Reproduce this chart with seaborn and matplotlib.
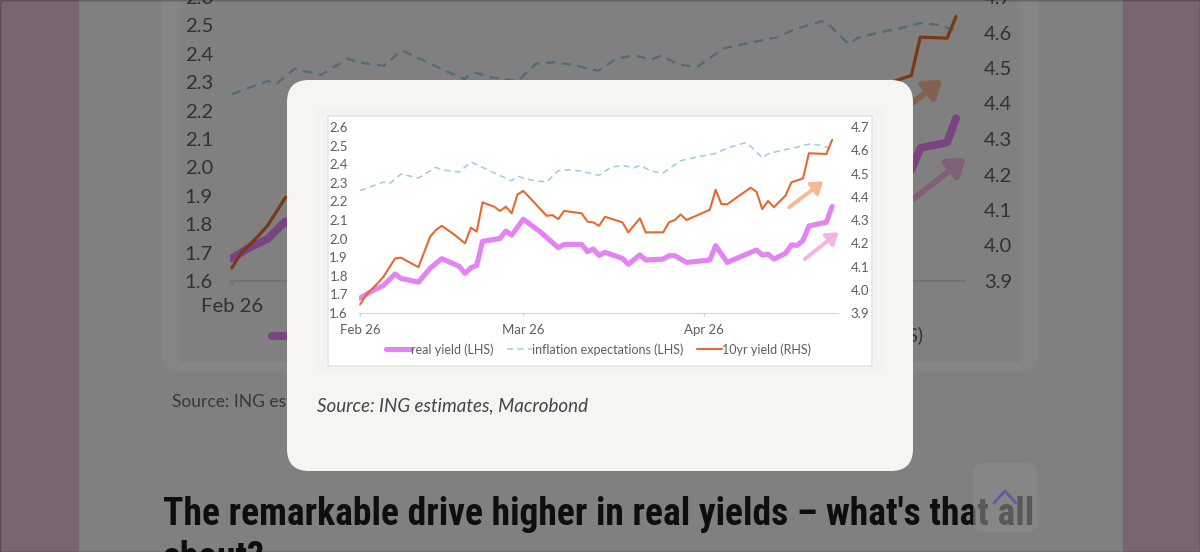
import matplotlib
matplotlib.use("Agg")
import matplotlib.pyplot as plt
from matplotlib.patches import FancyBboxPatch, Rectangle
from matplotlib.lines import Line2D
from matplotlib.transforms import IdentityTransform
import numpy as np
import pandas as pd
import seaborn as sns

# data (day offsets from 1 Feb)
start = pd.Timestamp("2026-02-01")

real_days = [0, 2, 4, 6, 7, 10, 12, 14, 17, 18, 19, 20, 21, 24, 25, 26, 28, 31, 34, 35,
             38, 39, 40, 41, 42, 45, 46, 48, 49, 52, 53, 54, 56, 60, 61, 63, 68, 69, 70,
             71, 73, 74, 75, 76, 77, 80, 81]
real_yield = [1.680, 1.718, 1.748, 1.810, 1.786, 1.766, 1.840, 1.892, 1.851, 1.813, 1.843,
              1.856, 1.985, 2.001, 2.041, 2.019, 2.104, 2.034, 1.951, 1.969, 1.969, 1.930,
              1.944, 1.910, 1.926, 1.894, 1.862, 1.912, 1.885, 1.890, 1.908, 1.908, 1.872,
              1.885, 1.962, 1.872, 1.939, 1.912, 1.916, 1.890, 1.921, 1.966, 1.964, 1.990,
              2.068, 2.088, 2.173]

infl_days = [0, 4, 5, 7, 10, 13, 14, 17, 19, 21, 23, 26, 27, 29, 32, 34, 36, 38, 41, 43,
             45, 47, 48, 50, 52, 55, 57, 61, 63, 66, 67, 69, 70, 72, 75, 77, 79, 81]
infl_exp = [2.258, 2.304, 2.294, 2.347, 2.326, 2.383, 2.370, 2.358, 2.412, 2.383, 2.353,
            2.311, 2.335, 2.317, 2.304, 2.365, 2.370, 2.362, 2.340, 2.383, 2.394, 2.380,
            2.394, 2.362, 2.353, 2.419, 2.433, 2.458, 2.487, 2.515, 2.496, 2.434, 2.456,
            2.472, 2.492, 2.508, 2.502, 2.482]

ten_days = [0, 1, 3, 4, 6, 7, 10, 12, 13, 14, 16, 18, 19, 20, 21, 23, 24, 25, 26, 27, 28,
            30, 32, 33, 34, 35, 38, 39, 40, 41, 42, 45, 46, 48, 49, 52, 53, 54, 55, 56, 60,
            61, 62, 63, 67, 68, 69, 70, 71, 73, 74, 76, 77, 80, 81]
ten_yield = [3.937, 3.977, 4.028, 4.056, 4.135, 4.138, 4.097, 4.228, 4.257, 4.275, 4.240,
             4.200, 4.267, 4.250, 4.376, 4.357, 4.339, 4.357, 4.329, 4.410, 4.425, 4.372,
             4.318, 4.321, 4.304, 4.339, 4.329, 4.293, 4.290, 4.275, 4.314, 4.290, 4.247,
             4.307, 4.247, 4.247, 4.290, 4.300, 4.324, 4.300, 4.344, 4.430, 4.368, 4.368,
             4.439, 4.422, 4.347, 4.382, 4.355, 4.405, 4.462, 4.479, 4.587, 4.584, 4.645]

month_ticks = ["2026-02-01", "2026-03-01", "2026-04-01"]
month_labels = ["Feb 26", "Mar 26", "Apr 26"]
left_ticks = [1.6, 1.7, 1.8, 1.9, 2.0, 2.1, 2.2, 2.3, 2.4, 2.5, 2.6]
right_ticks = [3.9, 4.0, 4.1, 4.2, 4.3, 4.4, 4.5, 4.6, 4.7]
series_names = ["real yield (LHS)", "inflation expectations (LHS)", "10yr yield (RHS)"]

# trend arrows (day, LHS value) start -> end
arrow_orange = ((73.6, 2.168), (79.5, 2.308))
arrow_pink = ((76.3, 1.890), (82.1, 2.034))

PURPLE = "#e384f2"
ORANGE = "#e8692b"
BLUE = "#9ccbe6"
GREY = "#5e5e5e"

sns.set_style("white")
plt.rcParams["font.family"] = ["Lato", "DejaVu Sans"]

real_df = pd.DataFrame({"date": start + pd.to_timedelta(real_days, unit="D"), "value": real_yield})
infl_df = pd.DataFrame({"date": start + pd.to_timedelta(infl_days, unit="D"), "value": infl_exp})
ten_df = pd.DataFrame({"date": start + pd.to_timedelta(ten_days, unit="D"), "value": ten_yield})

W, H = 1200, 552
fig = plt.figure(figsize=(W / 100, H / 100), dpi=100)


def day(d):
    return start + pd.Timedelta(days=d)


def box(x0, y0, x1, y1, r, z, **kw):
    # rectangle in screenshot pixels (y from top)
    p = FancyBboxPatch((x0, H - y1), x1 - x0, y1 - y0,
                       boxstyle=f"round,pad=0,rounding_size={r}",
                       transform=IdentityTransform(), zorder=z, **kw)
    fig.add_artist(p)
    return p


def draw_chart(rect, s, z):
    ax = fig.add_axes(rect)
    ax.set_zorder(z)
    ax2 = ax.twinx()
    ax2.set_zorder(z + 0.1)
    for a in (ax, ax2):
        a.patch.set_visible(False)

    sns.lineplot(data=real_df, x="date", y="value", ax=ax, color=PURPLE,
                 linewidth=3.7 * s, legend=False, solid_joinstyle="round",
                 solid_capstyle="round")
    sns.lineplot(data=infl_df, x="date", y="value", ax=ax, color=BLUE,
                 linewidth=1.1 * s, linestyle=(0, (4, 2.8)), legend=False)
    sns.lineplot(data=ten_df, x="date", y="value", ax=ax2, color=ORANGE,
                 linewidth=1.5 * s, legend=False)

    for (d0, v0), (d1, v1), c in [(arrow_orange[0], arrow_orange[1], "#f6b995"),
                                  (arrow_pink[0], arrow_pink[1], "#f2b6e0")]:
        ax.annotate("", xy=(day(d1), v1), xytext=(day(d0), v0), annotation_clip=False,
                    arrowprops=dict(arrowstyle="-|>,head_length=0.55,head_width=0.38",
                                    color=c, lw=2.8 * s, shrinkA=0, shrinkB=0,
                                    mutation_scale=12 * s))

    ax.set_xlim(day(-0.2), day(82))
    ax.set_ylim(left_ticks[0], left_ticks[-1])
    ax2.set_ylim(right_ticks[0], right_ticks[-1])
    ax.set_yticks(left_ticks)
    ax.set_yticklabels([f"{v:.1f}" for v in left_ticks])
    ax2.set_yticks(right_ticks)
    ax2.set_yticklabels([f"{v:.1f}" for v in right_ticks])
    ax.set_xticks(pd.to_datetime(month_ticks))
    ax.set_xticklabels(month_labels)
    for a in (ax, ax2):
        a.set_xlabel("")
        a.set_ylabel("")
        for sp in a.spines.values():
            sp.set_visible(False)
    ax.spines["bottom"].set_visible(True)
    ax.spines["bottom"].set_color("#d9d9d9")
    ax.spines["bottom"].set_linewidth(0.9 * s)
    ax.tick_params(axis="y", length=0, pad=8 * s, labelsize=9.5 * s, labelcolor=GREY)
    ax2.tick_params(axis="y", length=0, pad=9 * s, labelsize=9.5 * s, labelcolor=GREY)
    ax.tick_params(axis="x", length=2 * s, width=0.8 * s, color="#d0d0d0",
                   pad=6 * s, labelsize=9.5 * s, labelcolor=GREY, bottom=True)

    handles = ax.get_lines()[:2] + ax2.get_lines()[:1]
    ax.legend(handles, series_names, loc="center", bbox_to_anchor=(0.5, -0.195),
              ncol=3, frameon=False, fontsize=9 * s, handlelength=2.0,
              handletextpad=0.05, columnspacing=1.05, labelcolor=GREY)
    return ax, ax2


# ---- page behind the modal ----
fig.patch.set_facecolor("#f2f2f2")
fig.add_artist(Rectangle((0, 0), 78, H, transform=IdentityTransform(),
                         color="#e2bfd2", zorder=0.05))
fig.add_artist(Rectangle((1123, 0), W - 1123, H, transform=IdentityTransform(),
                         color="#e2bfd2", zorder=0.05))
box(163, -30, 1037, 372, 14, 0.1, facecolor="#fbfbfb", edgecolor="none")
box(180, -30, 1020, 363, 0, 0.15, facecolor="#f2f2f2", edgecolor="#fafafa", lw=1.2)

draw_chart([230 / W, (H - 281) / H, 735 / W, 284 / H], 735 / 479, 0.5)

fig.text(172 / W, 1 - 402 / H, "Source: ING estimates, Macrobond", fontsize=12.5,
         color="#6a6a6a", va="center", zorder=0.6)
head_font = dict(fontsize=27, fontweight="bold", family=["Roboto Condensed", "DejaVu Sans"],
                 color="#1c1c1c", va="baseline", zorder=0.6)
fig.text(163 / W, 1 - 525 / H,
         "The remarkable drive higher in real yields \u2013 what's that all", **head_font)
fig.text(163 / W, 1 - 569 / H, "about?", **head_font)

# dark veil
fig.add_artist(Rectangle((0, 0), W, H, transform=IdentityTransform(),
                         color="black", alpha=0.47, zorder=1))

# scroll-to-top button
box(973, 463, 1037, 532, 10, 1.5, facecolor="#8b8b8b", alpha=0.6, edgecolor="none")
fig.add_artist(Line2D([994, 1005, 1016], [H - 503, H - 491, H - 503],
                      transform=IdentityTransform(), color="#6b55a0", lw=2, zorder=1.6))

# ---- modal ----
box(287, 80, 913, 471, 22, 2, facecolor="#f7f5f2", edgecolor="none")
box(316, 108, 884, 372, 0, 2.1, facecolor="#f3f3f3", edgecolor="none")
box(328, 116, 872, 366, 0, 2.2, facecolor="white", edgecolor="#e2e2e2", lw=1)

draw_chart([359 / W, (H - 313) / H, 479 / W, 186 / H], 1.0, 3)

fig.text(317 / W, 1 - 406 / H, "Source: ING estimates, Macrobond", fontsize=13.5,
         style="italic", color="#454545", va="center", zorder=3)

fig.savefig("out.png", dpi=100, facecolor=fig.get_facecolor())
